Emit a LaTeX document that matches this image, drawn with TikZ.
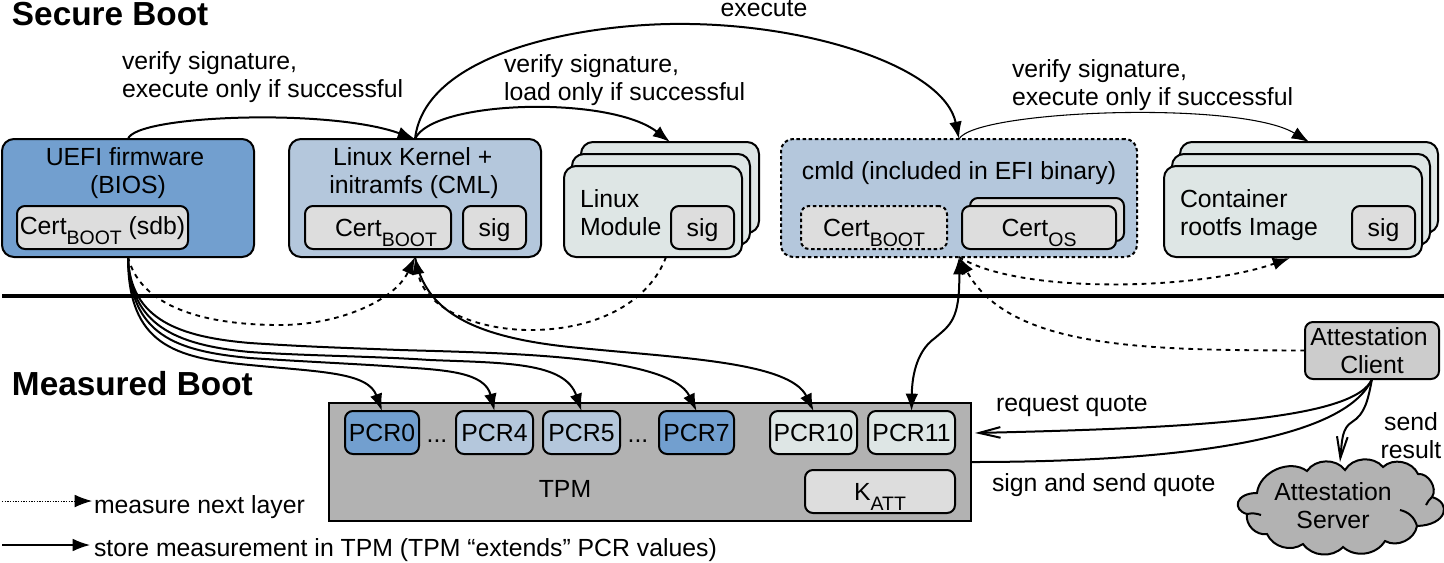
\documentclass[tikz,border=0pt]{standalone}
\usepackage{fontspec}
\setmainfont{Liberation Sans}
\usetikzlibrary{arrows.meta,calc}
\definecolor{cblue}{HTML}{729FCF}
\definecolor{clight}{HTML}{B4C7DC}
\definecolor{cpale}{HTML}{DEE6E5}
\definecolor{cgrey}{HTML}{DDDDDD}
\definecolor{cclient}{HTML}{CCCCCC}
\definecolor{ctpm}{HTML}{B2B2B2}
\newcommand\bx[6]{% style, fill, x1,y1,x2,y2 -- text follows
  \node[bxs,fill=#2,minimum width={(#5-#3)*0.75pt},minimum height={(#6-#4)*0.75pt},#1] at ({(#3+#5)/2},{(#4+#6)/2})}
\newcommand\lsub[1]{\smash{\raisebox{-0.42em}{\fontsize{14.6}{16}\selectfont #1}}}
\tikzset{
  bxs/.style={draw=black,line width=1.5pt,rounded corners=9pt,inner sep=0pt,outer sep=0pt,align=center,
    font=\fontsize{18.6}{21}\selectfont},
  small/.style={rounded corners=6pt},
  dotb/.style={dash pattern=on 2.6pt off 2pt},
  lbl/.style={inner sep=0pt,outer sep=0pt,align=left,anchor=west,font=\fontsize{18.6}{21}\selectfont},
  clbl/.style={lbl,align=center,anchor=center},
  head/.style={inner sep=0pt,outer sep=0pt,anchor=west,font=\bfseries\fontsize{25}{28}\selectfont},
  conn/.style={line width=1.5pt,-{Latex[length=13pt,width=9.5pt]}},
  thinconn/.style={line width=0.8pt,-{Latex[length=13pt,width=9.5pt]}},
  dconn/.style={line width=1.4pt,dash pattern=on 3.5pt off 3.5pt,-{Latex[length=13pt,width=9.5pt]}},
  barb/.style={line width=1.5pt,-{Straight Barb[length=16pt,width=8pt]}},
}
\begin{document}
\begin{tikzpicture}[x=0.75pt,y=-0.75pt]
\useasboundingbox (0,0) rectangle (1444,562);
% headings
\node[head] (hsec) at (12,14) {Secure Boot};
\node[head] (hmea) at (12,384) {Measured Boot};
% separator
\coordinate (sepL) at (2,296); \coordinate (sepR) at (1444,296);
\draw[line width=3.6pt] (sepL) -- (sepR);
% UEFI
\bx{name=uefi}{cblue}{2}{139}{254}{257} {};
\node[clbl] (uefit) at (128,173) {\mbox{UEFI firmware\hspace{4.5pt}}\\(BIOS)};
\bx{small,name=uefic}{cgrey}{17}{206}{188}{249} {};
\node[clbl] (uefict) at (102.5,228) {Cert\lsub{BOOT} (sdb)};
% Kernel
\bx{name=kern}{clight}{289}{139}{541}{257} {};
\node[clbl] (kernt) at (414,173) {\mbox{Linux Kernel +\hspace{2pt}}\\initramfs (CML)};
\bx{small,name=kernc}{cgrey}{305}{206}{451}{249} {\mbox{\hspace{12pt}Cert\lsub{BOOT}}};
\bx{small,text depth=0pt,name=kerns}{cgrey}{463}{206}{526}{249} {sig};
% Module stack
\bx{name=modb}{cpale}{581}{142}{759}{233} {};
\bx{name=modm}{cpale}{572}{154}{750}{245} {};
\bx{name=modf}{cpale}{564}{166}{742}{257} {};
\node[lbl] (modt) at (580,213) {Linux\\Module};
\bx{small,text depth=0pt,name=mods}{cgrey}{671}{206}{734}{249} {sig};
% cmld
\bx{dotb,name=cmld}{clight}{781}{139}{1137}{257} {};
\node[clbl] (cmldt) at (959,173) {cmld (included in EFI binary)};
\bx{small,dotb,name=cmldc}{cgrey}{801}{206}{947}{249} {Cert\lsub{BOOT}};
\bx{small,name=cmldob}{cgrey}{970}{198}{1124}{241} {};
\bx{small,name=cmldo}{cgrey}{962}{206}{1116}{249} {Cert\lsub{OS}};
% Container stack
\bx{name=conb}{cpale}{1180}{142}{1438}{233} {};
\bx{name=conm}{cpale}{1172}{154}{1430}{245} {};
\bx{name=conf}{cpale}{1164}{166}{1422}{257} {};
\node[lbl] (cont) at (1180,215) {Container\\rootfs Image};
\bx{small,text depth=0pt,name=cons}{cgrey}{1352}{206}{1415}{249} {sig};
% TPM
\bx{rounded corners=0pt,name=tpm}{ctpm}{329}{403}{971}{521} {};
\node[clbl] (tpmt) at (565,489) {TPM};
\bx{small,name=pcr0}{cblue}{345}{411}{419}{454} {PCR0};
\bx{small,name=pcr4}{clight}{456}{411}{533}{454} {PCR4};
\bx{small,name=pcr5}{clight}{543}{411}{620}{454} {PCR5};
\bx{small,name=pcr7}{cblue}{659}{411}{734}{454} {PCR7};
\bx{small,name=pcr10}{cpale}{770}{411}{857}{454} {PCR10};
\bx{small,name=pcr11}{cpale}{868}{411}{955}{454} {PCR11};
\bx{small,name=katt}{cgrey}{805}{470}{955}{513} {K\lsub{ATT}};
\node[clbl] (dots1) at (437,441) {...};
\node[clbl] (dots2) at (638,441) {...};
% client
\bx{small,name=client}{cclient}{1305}{322}{1439}{379} {\mbox{Attestation\hspace{4.5pt}}\\Client};
% cloud
\coordinate (c1) at (1257,493);
\coordinate (c2) at (1307,471);
\coordinate (c3) at (1345,470);
\coordinate (c4) at (1383,467);
\coordinate (c5) at (1418,474);
\coordinate (c6) at (1432,497);
\coordinate (c7) at (1417,526);
\coordinate (c8) at (1385,541);
\coordinate (c9) at (1343,547);
\coordinate (c10) at (1303,544);
\coordinate (c11) at (1267,534);
\coordinate (c12) at (1247,514);
\draw[line width=1.5pt,fill=ctpm] (c1) to[bend left=60] (c2) to[bend left=55] (c3) to[bend left=55] (c4) to[bend left=55] (c5) to[bend left=65] (c6) .. controls (1452,503) and (1447,525) .. (c7) to[bend left=55] (c8) to[bend left=50] (c9) to[bend left=50] (c10) to[bend left=50] (c11) to[bend left=55] (c12) .. controls (1232,510) and (1235,493) .. (c1) -- cycle;
\coordinate (k1) at (1247,514); \coordinate (k2) at (1261,515);
\draw[line width=1.5pt] (k1) to[bend left=15] (k2);
\coordinate (k3) at (1400,510); \coordinate (k4) at (1417,526);
\draw[line width=1.5pt] (k3) to[bend left=30] (k4);
\coordinate (k5) at (1432,497); \coordinate (k6) at (1426,505);
\draw[line width=1.5pt] (k5) to[bend right=10] (k6);
\node[clbl] (server) at (1333,506) {Attestation\\Server};
\coordinate (srvin) at (1340,462);
\coordinate (tpmin) at (975,433);
% labels
\node[lbl] (l1) at (122,77) {verify signature,\\execute only if successful};
\node[lbl] (l2) at (504,80) {verify signature,\\load only if successful};
\node[lbl] (l3) at (1012,85) {verify signature,\\execute only if successful};
\node[clbl] (l4) at (764,9) {execute};
\node[lbl] (l5) at (996,406) {request quote};
\node[lbl] (l6) at (992,485) {sign and send quote};
\node[clbl] (l7) at (1411,436) {send\\result};
\node[lbl] (l8) at (94,507) {measure next layer};
\node[lbl] (l9) at (94,550) {store measurement in TPM (TPM “extends” PCR values)};
% legend
\coordinate (la1) at (2,501); \coordinate (la2) at (92,501);
\coordinate (lb1) at (2,545); \coordinate (lb2) at (90,545);
\draw[line width=0.7pt,dash pattern=on 1pt off 1pt,-{Latex[length=13pt,width=9.5pt]}] (la1) -- (la2);
\draw[line width=1pt,-{Latex[length=13pt,width=9.5pt]}] (lb1) -- (lb2);
% top connectors
\draw[conn] (uefi.north) .. controls (135,115) and (330,108) .. (kern.north);
\draw[conn] (kern.north) .. controls (432,100) and (610,95) .. (modb.north);
\draw[conn] (kern.north) .. controls (425,50) and (590,22) .. (690,24) .. controls (820,26) and (945,70) .. (cmld.north);
\draw[thinconn] (cmld.north) .. controls (975,110) and (1240,100) .. (conb.north);
% measure connectors
\draw[dconn] (uefi.south) .. controls (140,305) and (200,325) .. (280,325) .. controls (340,325) and (395,300) .. (kern.south);
\coordinate (mout) at (666,257);
\draw[dconn] (mout) .. controls (650,300) and (600,330) .. (530,330) .. controls (480,330) and (425,310) .. (kern.south);
\coordinate (cfr) at (1290,258);
\draw[dconn] (cmld.south) .. controls (1020,295) and (1200,290) .. (cfr);
\draw[dconn] (client.west) .. controls (1150,350) and (1010,350) .. (cmld.south);
% store connectors
\draw[conn] (uefi.south) .. controls (128,345) and (175,358) .. (250,365) .. controls (320,372) and (368,372) .. (pcr0.north);
\draw[conn] (uefi.south) .. controls (130,335) and (175,351) .. (250,358) .. controls (310,362) and (360,364) .. (400,367) .. controls (445,370) and (485,372) .. (pcr4.north);
\draw[conn] (uefi.south) .. controls (130,325) and (175,345) .. (250,352) .. controls (310,356) and (370,356) .. (430,360) .. controls (505,363) and (565,362) .. (pcr5.north);
\draw[conn] (uefi.south) .. controls (130,320) and (180,337) .. (250,343) .. controls (310,347) and (350,348) .. (400,350) .. controls (500,353) and (670,355) .. (pcr7.north);
\draw[conn] (kern.south) .. controls (425,310) and (470,338) .. (580,348) .. controls (680,358) and (790,362) .. (pcr10.north);
\draw[line width=1.5pt,{Latex[length=13pt,width=9.5pt]}-{Latex[length=13pt,width=9.5pt]}] (cmld.south) .. controls (960,320) and (950,325) .. (935,338) .. controls (915,352) and (912,380) .. (pcr11.north);
% attestation
\draw[barb] (client.south) .. controls (1355,420) and (1190,428) .. (tpmin);
\draw[line width=1.5pt] (tpm.east) .. controls (1180,462) and (1345,440) .. (client.south);
\draw[barb] (client.south) .. controls (1368,400) and (1365,414) .. (1352,422) .. controls (1342,428) and (1342,440) .. (srvin);
\end{tikzpicture}
\end{document}
